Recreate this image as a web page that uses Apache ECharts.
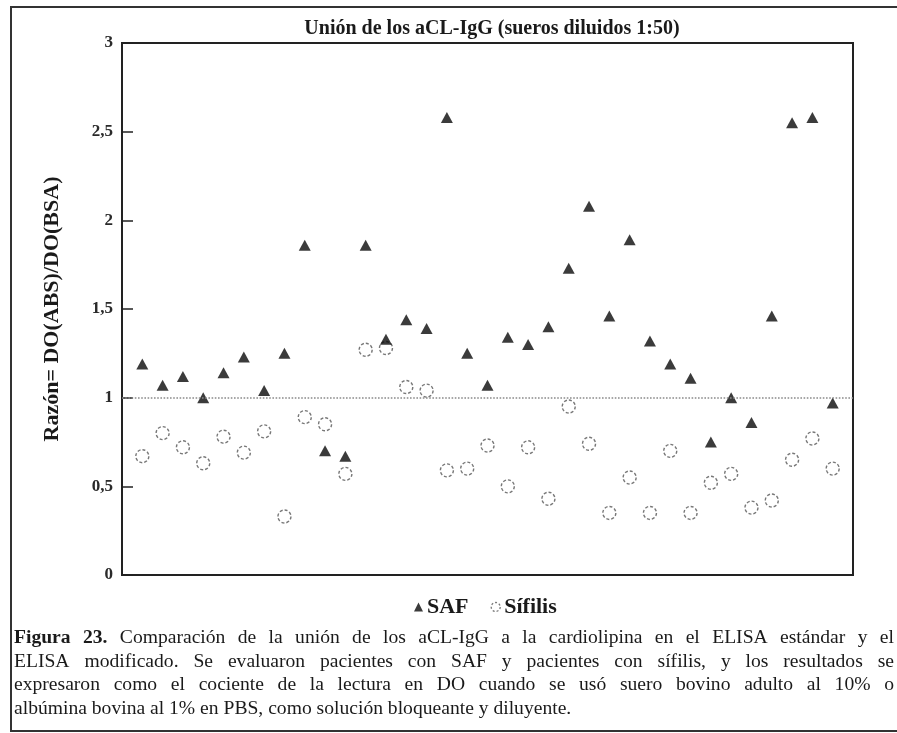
<!DOCTYPE html>
<html>
<head>
<meta charset="utf-8">
<script src="https://cdn.jsdelivr.net/npm/echarts@6/dist/echarts.min.js"></script>
<style>
  html, body { margin: 0; padding: 0; background: #ffffff; }
  #chart { width: 897px; height: 733px; }
</style>
</head>
<body>
<div id="chart"></div>
<script>
// Razón DO(ABS)/DO(BSA) por suero, 35 sueros en cada grupo
const saf = [
  1.19, 1.07, 1.12, 1.00, 1.14, 1.23, 1.04, 1.25, 1.86, 0.70,
  0.67, 1.86, 1.33, 1.44, 1.39, 2.58, 1.25, 1.07, 1.34, 1.30,
  1.40, 1.73, 2.08, 1.46, 1.89, 1.32, 1.19, 1.11, 0.75, 1.00,
  0.86, 1.46, 2.55, 2.58, 0.97
];
const sifilis = [
  0.67, 0.80, 0.72, 0.63, 0.78, 0.69, 0.81, 0.33, 0.89, 0.85,
  0.57, 1.27, 1.28, 1.06, 1.04, 0.59, 0.60, 0.73, 0.50, 0.72,
  0.43, 0.95, 0.74, 0.35, 0.55, 0.35, 0.70, 0.35, 0.52, 0.57,
  0.38, 0.42, 0.65, 0.77, 0.60
];
const yTicks = [0, 0.5, 1, 1.5, 2, 2.5, 3];
const umbral = 1;

const titulo = 'Unión de los aCL-IgG (sueros diluidos 1:50)';
const ejeY = 'Razón= DO(ABS)/DO(BSA)';
const leyenda = ['SAF', 'Sífilis'];
const pie = [
  'Figura 23. Comparación de la unión de los aCL-IgG a la cardiolipina en el ELISA estándar y el',
  'ELISA modificado. Se evaluaron pacientes con SAF y pacientes con sífilis, y los resultados se',
  'expresaron como el cociente de la lectura en DO cuando se usó suero bovino adulto al 10% o',
  'albúmina bovina al 1% en PBS, como solución bloqueante y diluyente.'
];

const SERIF = '"Liberation Serif", "Times New Roman", serif';
const INK = '#1a1a1a';

// Justified caption: each word is placed so the full lines span the frame width
const measureCtx = document.createElement('canvas').getContext('2d');
function textWidth(txt, size, weight) {
  measureCtx.font = weight + ' ' + size + 'px ' + SERIF;
  return measureCtx.measureText(txt).width;
}
function captionElements() {
  const els = [];
  const left = 14, right = 894, size = 19.6, top = 638, lineH = 23.5;
  pie.forEach(function (line, li) {
    const words = line.split(' ');
    const weights = words.map(function (w, wi) {
      return (li === 0 && wi < 2) ? 'bold' : 'normal';
    });
    const widths = words.map(function (w, wi) { return textWidth(w, size, weights[wi]); });
    const total = widths.reduce(function (a, b) { return a + b; }, 0);
    const last = li === pie.length - 1;
    const gap = last ? textWidth(' ', size, 'normal') : (right - left - total) / (words.length - 1);
    let x = left;
    words.forEach(function (w, wi) {
      els.push({
        type: 'text',
        x: x,
        y: top + li * lineH,
        silent: true,
        style: {
          text: w,
          fontSize: size,
          fontFamily: SERIF,
          fontWeight: weights[wi],
          fill: INK,
          verticalAlign: 'middle'
        }
      });
      x += widths[wi] + gap;
    });
  });
  return els;
}

const chart = echarts.init(document.getElementById('chart'), null, { renderer: 'canvas' });

const option = {
  backgroundColor: '#ffffff',
  animation: false,
  title: {
    text: titulo,
    left: 487,
    top: 14,
    textAlign: 'center',
    textStyle: { fontFamily: SERIF, fontWeight: 'bold', fontSize: 20, color: INK }
  },
  legend: {
    data: [
      { name: leyenda[0], icon: 'triangle' },
      { name: leyenda[1], icon: 'circle', itemStyle: { borderType: [2, 2], borderWidth: 1.3, borderColor: '#555' } }
    ],
    top: 591,
    left: 409,
    itemWidth: 9,
    itemHeight: 9,
    itemGap: 22,
    textStyle: { fontFamily: SERIF, fontWeight: 'bold', fontSize: 22, color: INK, padding: [0, 0, 0, -1] }
  },
  grid: {
    left: 122, right: 44, top: 43, bottom: 158,
    show: true,
    borderColor: '#222',
    borderWidth: 2,
    containLabel: false
  },
  xAxis: {
    type: 'value',
    min: 0,
    max: saf.length + 1,
    axisLine: { show: true, lineStyle: { color: '#222', width: 2 } },
    axisTick: { show: false },
    axisLabel: { show: false },
    splitLine: { show: false }
  },
  yAxis: {
    type: 'value',
    min: yTicks[0],
    max: yTicks[yTicks.length - 1],
    interval: yTicks[1] - yTicks[0],
    name: ejeY,
    nameLocation: 'middle',
    nameGap: 59,
    nameTextStyle: { fontFamily: SERIF, fontWeight: 'bold', fontSize: 22, color: INK },
    axisLine: { show: true, lineStyle: { color: '#222', width: 2 } },
    axisTick: { show: true, inside: true, length: 11, lineStyle: { color: '#222', width: 1.5 } },
    axisLabel: {
      margin: 9,
      fontFamily: SERIF,
      fontWeight: 'bold',
      fontSize: 17,
      color: '#2a2a2a',
      formatter: function (v) { return String(v).replace('.', ','); }
    },
    splitLine: { show: false }
  },
  series: [
    {
      name: leyenda[0],
      type: 'scatter',
      symbol: 'triangle',
      symbolSize: [12, 11],
      itemStyle: { color: '#0a0a0a' },
      data: saf.map(function (v, i) { return [i + 1, v]; }),
      markLine: {
        silent: true,
        symbol: ['none', 'none'],
        label: { show: false },
        lineStyle: { color: '#8a8a8a', type: 'dotted', width: 1.6 },
        data: [{ yAxis: umbral }]
      },
      z: 3
    },
    {
      name: leyenda[1],
      type: 'scatter',
      symbol: 'circle',
      symbolSize: 13,
      itemStyle: {
        color: 'rgba(255,255,255,0)',
        borderColor: '#555',
        borderWidth: 1.4,
        borderType: [3, 2]
      },
      data: sifilis.map(function (v, i) { return [i + 1, v]; }),
      z: 2
    }
  ],
  graphic: [
    {
      type: 'rect',
      silent: true,
      shape: { x: 11, y: 7, width: 900, height: 724 },
      style: { fill: 'none', stroke: '#333', lineWidth: 2 }
    }
  ].concat(captionElements())
};

chart.setOption(option);
</script>
</body>
</html>
